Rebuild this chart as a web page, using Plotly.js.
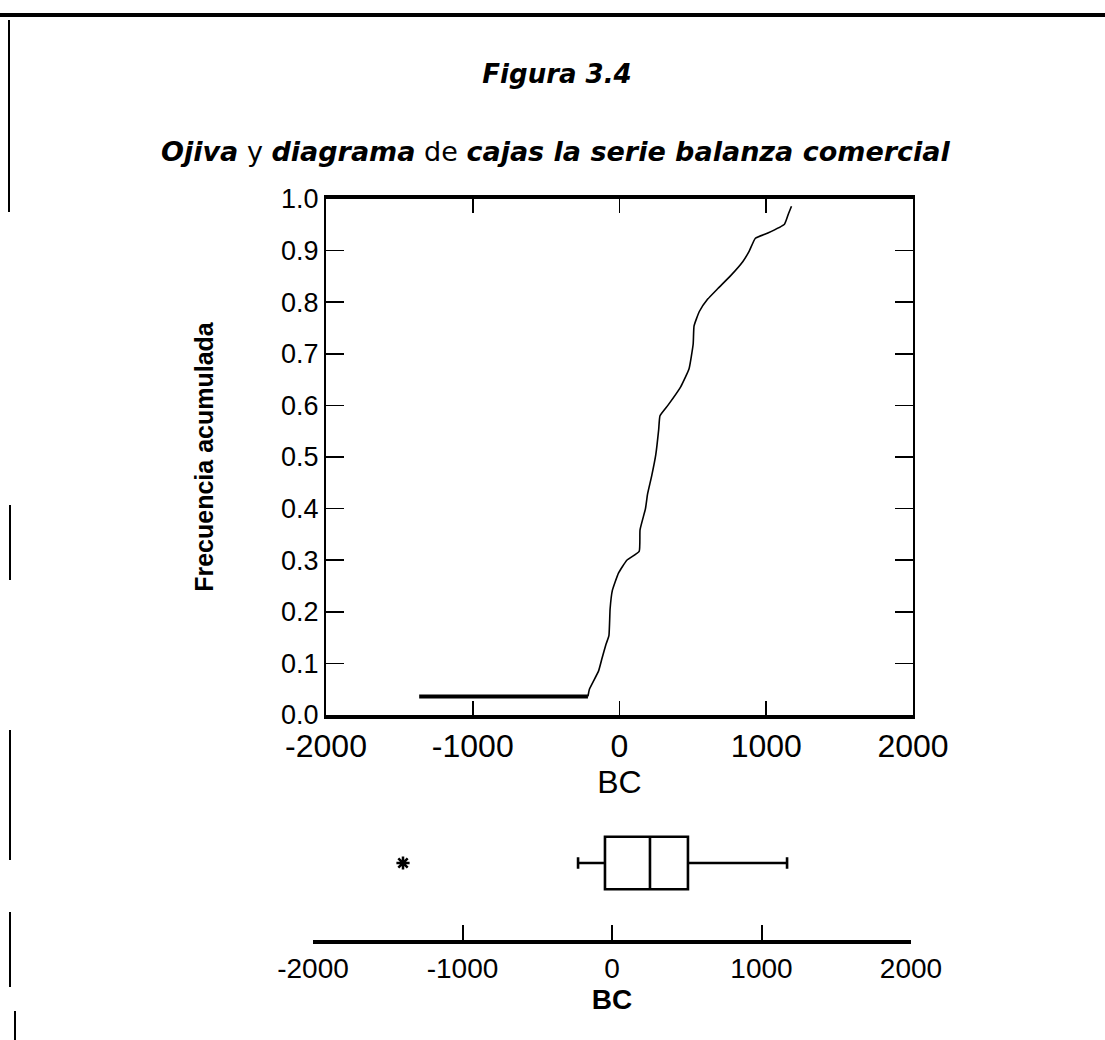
<!DOCTYPE html>
<html>
<head>
<meta charset="utf-8">
<script src="https://cdn.plot.ly/plotly-3.0.1.min.js"></script>
<style>html,body{margin:0;padding:0;background:#fff;}#chart{width:1105px;height:1040px;}</style>
</head>
<body>
<div id="chart"></div>
<script>
// Ojiva (cumulative relative frequency) of BC
var bcOjiva = [-1365, -215, -205, -143, -120, -92, -72, -64, -49, -7, 50, 134, 140, 177, 191, 219, 247, 267, 276, 332, 417, 474, 502, 508, 544, 601, 672, 756, 841, 884, 926, 1011, 1124, 1152, 1172];
var freqOjiva = [0.036, 0.036, 0.050, 0.085, 0.109, 0.137, 0.154, 0.206, 0.241, 0.275, 0.300, 0.317, 0.359, 0.400, 0.428, 0.463, 0.504, 0.553, 0.580, 0.601, 0.636, 0.671, 0.719, 0.754, 0.782, 0.806, 0.827, 0.851, 0.879, 0.899, 0.924, 0.934, 0.951, 0.972, 0.986];

// Box plot summary of BC
var boxQ1 = [-47];
var boxMedian = [254];
var boxQ3 = [508];
var boxLowerFence = [-227];
var boxUpperFence = [1171];
var boxOutliers = [-1398];

var xTickVals = [-2000, -1000, 0, 1000, 2000];
var xTickText = ['-2000', '-1000', '0', '1000', '2000'];
var yTickVals = [0, 0.1, 0.2, 0.3, 0.4, 0.5, 0.6, 0.7, 0.8, 0.9, 1.0];
var yTickText = ['0.0', '0.1', '0.2', '0.3', '0.4', '0.5', '0.6', '0.7', '0.8', '0.9', '1.0'];

var W = 1105, H = 1040;
function px(x) { return x / W; }
function py(y) { return 1 - y / H; }

var baseFont = 'Liberation Sans, Arial, Helvetica, sans-serif';

var traces = [
  {
    type: 'scatter', mode: 'lines',
    x: bcOjiva.slice(0, 2), y: freqOjiva.slice(0, 2),
    line: {color: '#000', width: 4}, xaxis: 'x', yaxis: 'y', hoverinfo: 'skip'
  },
  {
    type: 'scatter', mode: 'lines',
    x: bcOjiva.slice(1), y: freqOjiva.slice(1),
    line: {color: '#000', width: 1.6, shape: 'spline', smoothing: 0.4}, xaxis: 'x', yaxis: 'y'
  },
  {
    type: 'box', orientation: 'h',
    y: [0], q1: boxQ1, median: boxMedian, q3: boxQ3,
    lowerfence: boxLowerFence, upperfence: boxUpperFence,
    width: 1.02, whiskerwidth: 0.22,
    fillcolor: 'rgba(0,0,0,0)', line: {color: '#000', width: 2.6},
    boxpoints: false, xaxis: 'x2', yaxis: 'y2'
  },
  {
    type: 'scatter', mode: 'markers',
    x: boxOutliers, y: boxOutliers.map(function(){return 0;}),
    marker: {symbol: 'asterisk-open', size: 11, color: '#000', line: {color: '#000', width: 2.5}},
    xaxis: 'x2', yaxis: 'y2'
  }
];

var layout = {
  width: W, height: H,
  margin: {l: 0, r: 0, t: 0, b: 0, pad: 0},
  paper_bgcolor: '#fff', plot_bgcolor: 'rgba(0,0,0,0)',
  showlegend: false,
  font: {family: baseFont, color: '#000'},
  title: {
    text: '<b><i>Figura 3.4</i></b>',
    font: {family: 'DejaVu Sans, sans-serif', size: 26, color: '#000'},
    xref: 'container', yref: 'container', x: px(557), y: py(74),
    xanchor: 'center', yanchor: 'middle'
  },
  annotations: [
    {
      text: '<b><i>Ojiva</i></b> y <b><i>diagrama</i></b> de <b><i>cajas la serie balanza comercial</i></b>',
      xref: 'paper', yref: 'paper', x: px(555), y: py(151),
      xanchor: 'center', yanchor: 'middle', showarrow: false,
      font: {family: 'DejaVu Sans, sans-serif', size: 27, color: '#000'}
    }
  ],
  xaxis: {
    domain: [px(326), px(913)], anchor: 'y',
    range: [-2000, 2000], tickvals: xTickVals, ticktext: xTickText,
    showline: true, linewidth: 4, linecolor: '#000', mirror: 'ticks',
    ticks: 'inside', ticklen: 14, tickwidth: 1.6, tickcolor: '#000',
    showgrid: false, zeroline: false,
    tickfont: {size: 32, family: baseFont},
    title: {text: 'BC', font: {size: 32, family: baseFont}, standoff: 2}
  },
  yaxis: {
    domain: [py(715), py(199)], anchor: 'x',
    range: [0, 1], tickvals: yTickVals, ticktext: yTickText,
    showline: true, linewidth: 2, linecolor: '#000', mirror: 'ticks',
    ticks: 'inside', ticklen: 18, tickwidth: 1.6, tickcolor: '#000',
    showgrid: false, zeroline: false,
    tickfont: {size: 27, family: baseFont},
    title: {text: '<b>Frecuencia acumulada</b>', font: {size: 25, family: baseFont}, standoff: 60}
  },
  xaxis2: {
    domain: [px(313), px(911)], anchor: 'y2',
    range: [-2000, 2000], tickvals: xTickVals, ticktext: xTickText,
    showline: true, linewidth: 4, linecolor: '#000', mirror: false,
    ticks: 'inside', ticklen: 15, tickwidth: 2, tickcolor: '#000',
    showgrid: false, zeroline: false,
    tickfont: {size: 28, family: baseFont},
    title: {text: '<b>BC</b>', font: {size: 28, family: baseFont}, standoff: 4}
  },
  yaxis2: {
    domain: [py(940), py(786)], anchor: 'x2',
    range: [-1.5, 1.5], visible: false, fixedrange: true
  },
  shapes: [
    {type: 'line', xref: 'paper', yref: 'paper', x0: 0, x1: 1, y0: py(15), y1: py(15), line: {color: '#000', width: 4}},
    {type: 'line', xref: 'paper', yref: 'paper', x0: px(9), x1: px(9), y0: py(20), y1: py(212), line: {color: '#000', width: 2}},
    {type: 'line', xref: 'paper', yref: 'paper', x0: px(10), x1: px(10), y0: py(505), y1: py(580), line: {color: '#000', width: 2}},
    {type: 'line', xref: 'paper', yref: 'paper', x0: px(10), x1: px(10), y0: py(730), y1: py(860), line: {color: '#000', width: 2}},
    {type: 'line', xref: 'paper', yref: 'paper', x0: px(10), x1: px(10), y0: py(912), y1: py(987), line: {color: '#000', width: 2}},
    {type: 'line', xref: 'paper', yref: 'paper', x0: px(15), x1: px(15), y0: py(1011), y1: py(1040), line: {color: '#000', width: 2}}
  ]
};

Plotly.newPlot('chart', traces, layout, {displayModeBar: false, staticPlot: true});
</script>
</body>
</html>
